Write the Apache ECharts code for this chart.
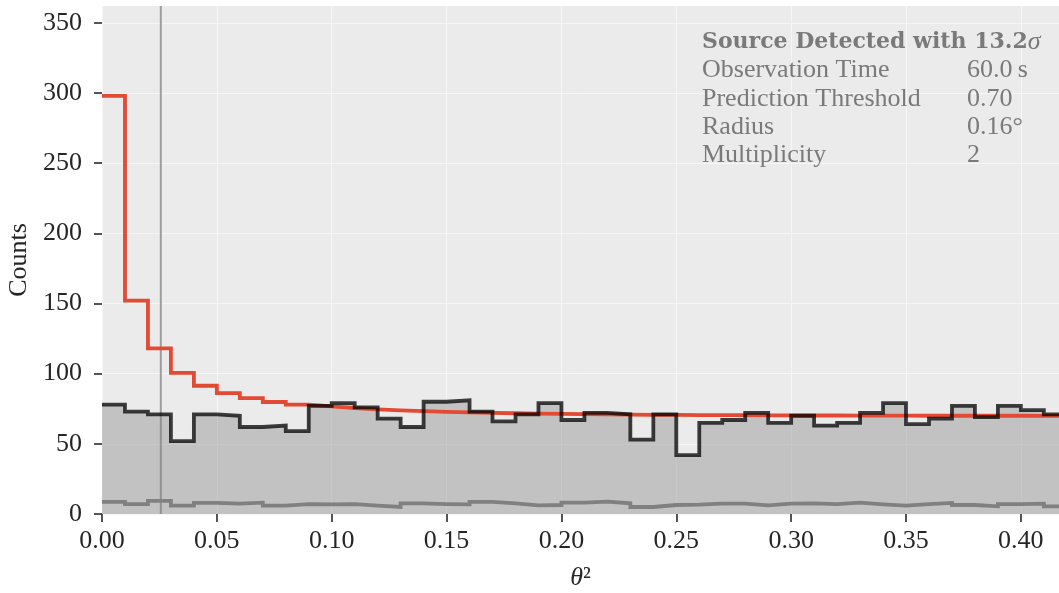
<!DOCTYPE html>
<html>
<head>
<meta charset="utf-8">
<title>θ² distribution</title>
<script src="https://cdn.jsdelivr.net/npm/echarts@6/dist/echarts.min.js"></script>
<style>
  html, body { margin: 0; padding: 0; background: #ffffff; }
  #chart { width: 1059px; height: 593px; }
</style>
</head>
<body>
<div id="chart"></div>
<script>
// Bin edges of the theta^2 histogram (deg^2)
const thetaSqEdges = [
  0.00, 0.01, 0.02, 0.03, 0.04, 0.05, 0.06, 0.07, 0.08, 0.09,
  0.10, 0.11, 0.12, 0.13, 0.14, 0.15, 0.16, 0.17, 0.18, 0.19,
  0.20, 0.21, 0.22, 0.23, 0.24, 0.25, 0.26, 0.27, 0.28, 0.29,
  0.30, 0.31, 0.32, 0.33, 0.34, 0.35, 0.36, 0.37, 0.38, 0.39,
  0.40, 0.41, 0.42
];

// Counts around the source position
const onCounts = [
  78, 73, 71, 52, 71, 70, 62, 63, 59, 77,
  79, 76, 68, 62, 80, 81, 73, 66, 71, 79,
  67, 72, 71, 53, 71, 42, 65, 67, 72, 65,
  70, 63, 65, 72, 79, 64, 68, 77, 69, 77,
  74, 71
];

// Scaled background counts from the off regions
const offCounts = [
  8.6, 7.1, 9.3, 6.0, 7.9, 7.4, 8.1, 6.0, 7.1, 6.9,
  7.1, 6.0, 5.0, 7.6, 7.1, 6.9, 8.6, 7.6, 6.2, 6.4,
  8.1, 8.8, 7.6, 5.0, 6.4, 6.7, 7.4, 7.4, 6.2, 7.4,
  7.6, 7.0, 8.1, 6.9, 6.0, 7.1, 7.9, 6.4, 5.5, 7.1,
  7.4, 5.5
];

// Expected counts (source + flat background) per bin
const modelCounts = [
  298, 152, 118, 100.5, 91.4, 86.2, 82.6, 79.8, 77.9, 76.7,
  75.5, 74.6, 73.9, 73.3, 72.8, 72.4, 72.1, 71.8, 71.5, 71.3,
  71.1, 71.0, 70.8, 70.7, 70.6, 70.5, 70.4, 70.4, 70.3, 70.3,
  70.2, 70.2, 70.1, 70.1, 70.1, 70.0, 70.0, 70.0, 70.0, 70.0,
  69.9, 69.9
];

const xTickValues = [0.00, 0.05, 0.10, 0.15, 0.20, 0.25, 0.30, 0.35, 0.40];
const yTickValues = [0, 50, 100, 150, 200, 250, 300, 350];

// On-region radius (deg); the cut is drawn at radius^2
const sourceRadius = 0.16;

const infoTitle = ['Source Detected with 13.2', 'σ'];
const infoRows = [
  ['Observation Time', '60.0\u2009s'],
  ['Prediction Threshold', '0.70'],
  ['Radius', '0.16°'],
  ['Multiplicity', '2']
];

// Histogram as a post-step polyline: one point at each bin's left edge,
// plus a closing point at the last right edge.
function stepPoints(values) {
  const pts = values.map((v, i) => [thetaSqEdges[i], v]);
  pts.push([thetaSqEdges[values.length], values[values.length - 1]]);
  return pts;
}

const FONT = 'Liberation Serif';
const TITLE_FONT = 'DejaVu Serif';
const TEXT_GRAY = '#7a7a7a';
const Y_MAX = 362;

const chart = echarts.init(document.getElementById('chart'), null, { renderer: 'canvas' });

// Info box, upper right of the panel
const infoGraphics = [];
const rowTop = 43, rowStep = 28.4, colLeft = 702, colValue = 967;
infoGraphics.push({
  type: 'text', left: colLeft, top: rowTop - 14, silent: true, z: 100,
  style: {
    text: '{b|' + infoTitle[0] + '}{bi|' + infoTitle[1] + '}',
    rich: {
      b: { fontFamily: TITLE_FONT, fontSize: 22, fontWeight: 'bold', fill: TEXT_GRAY },
      bi: { fontFamily: FONT, fontSize: 26, fontStyle: 'italic', fill: TEXT_GRAY }
    }
  }
});
infoRows.forEach((row, i) => {
  const y = rowTop + (i + 1) * rowStep - 14;
  infoGraphics.push({
    type: 'text', left: colLeft, top: y, silent: true, z: 100,
    style: { text: row[0], fontFamily: FONT, fontSize: 26, fill: TEXT_GRAY }
  });
  infoGraphics.push({
    type: 'text', left: colValue, top: y, silent: true, z: 100,
    style: { text: row[1], fontFamily: FONT, fontSize: 26, fill: TEXT_GRAY }
  });
});

const stepLine = (color, width) => ({
  color: color, width: width, cap: 'butt', join: 'miter'
});

chart.setOption({
  animation: false,
  backgroundColor: '#ffffff',
  textStyle: { fontFamily: FONT },
  grid: {
    left: 102, right: 0, top: 6, bottom: 79,
    outerBoundsMode: 'none',
    containLabel: false,
    show: true, backgroundColor: '#ebebeb', borderWidth: 0
  },
  xAxis: {
    type: 'value',
    min: 0, max: 0.4166,
    name: '{i|θ}{n|²}',
    nameLocation: 'middle',
    nameGap: 51,
    nameTextStyle: {
      rich: {
        i: { fontFamily: FONT, fontSize: 26, fontStyle: 'italic', color: '#262626' },
        n: { fontFamily: FONT, fontSize: 26, color: '#262626' }
      }
    },
    axisLine: { show: false },
    axisTick: { show: true, length: 8, customValues: xTickValues, lineStyle: { color: '#2a2a2a', width: 1.6 } },
    axisLabel: {
      customValues: xTickValues,
      formatter: v => v.toFixed(2),
      fontFamily: FONT, fontSize: 26, color: '#262626', margin: 14
    },
    splitLine: { show: true, lineStyle: { color: '#f6f6f6', width: 1 } }
  },
  yAxis: {
    type: 'value',
    min: 0, max: Y_MAX,
    name: 'Counts',
    nameLocation: 'middle',
    nameRotate: 90,
    nameGap: 60,
    nameTextStyle: { fontFamily: FONT, fontSize: 26, color: '#262626' },
    axisLine: { show: false },
    axisTick: { show: true, length: 8, customValues: yTickValues, lineStyle: { color: '#2a2a2a', width: 1.6 } },
    axisLabel: {
      customValues: yTickValues,
      fontFamily: FONT, fontSize: 26, color: '#262626', margin: 20
    },
    splitLine: { show: true, lineStyle: { color: '#f6f6f6', width: 1 } }
  },
  graphic: infoGraphics,
  series: [
    {
      // shaded area under the on-region counts
      type: 'line', step: 'end', symbol: 'none', silent: true,
      data: stepPoints(onCounts),
      lineStyle: { width: 0, opacity: 0 },
      areaStyle: { color: '#999999', opacity: 0.5 },
      z: 1
    },
    {
      // radius^2 cut
      type: 'line', symbol: 'none', silent: true,
      data: [[sourceRadius * sourceRadius, 0], [sourceRadius * sourceRadius, Y_MAX]],
      lineStyle: { color: 'rgba(125,125,125,0.7)', width: 2 },
      z: 2
    },
    {
      type: 'line', step: 'end', symbol: 'none', silent: true,
      data: stepPoints(offCounts),
      lineStyle: stepLine('#808080', 3.8),
      z: 3
    },
    {
      type: 'line', step: 'end', symbol: 'none', silent: true,
      data: stepPoints(modelCounts),
      lineStyle: stepLine('#e24a33', 3.8),
      z: 4
    },
    {
      type: 'line', step: 'end', symbol: 'none', silent: true,
      data: stepPoints(onCounts),
      lineStyle: stepLine('rgba(0,0,0,0.75)', 3.8),
      z: 5
    }
  ]
});
</script>
</body>
</html>
